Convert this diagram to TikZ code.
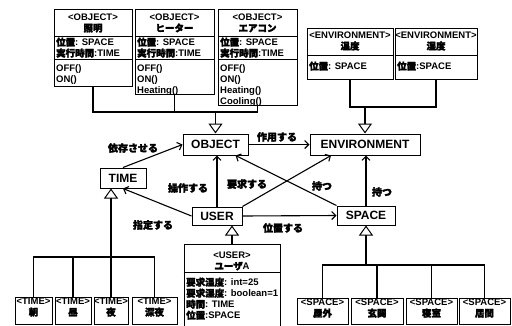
\documentclass[tikz,border=0pt]{standalone}
\usepackage{fontspec}
\setmainfont{Liberation Sans}
\newfontfamily\jp{Noto Sans CJK JP}[FakeBold=2.5]
\usetikzlibrary{arrows.meta}
\newcommand\J[1]{{\jp #1}}
\newcommand\st{\rule{0pt}{8pt}}
\newcommand\ubox[5]{\node[box, minimum width={#4-#2}, minimum height={#5-#3}] (#1) at ({(#2+#4)/2},{(#3+#5)/2}) {};}
\begin{document}
\begin{tikzpicture}[x=1pt,y=-1pt,
 box/.style={draw, line width=1pt, inner sep=0pt},
 main/.style={draw, line width=1pt, inner sep=0pt, font=\fontsize{12}{14}\selectfont\bfseries},
 txt/.style={inner sep=0pt, font=\fontsize{9.5}{11}\selectfont\bfseries},
 lbl/.style={inner sep=0pt, font=\fontsize{10}{12}\selectfont\bfseries\jp},
 div/.style={line width=1pt},
 assoc/.style={line width=1.1pt, -{Straight Barb[length=4pt,width=8pt]}},
 inh/.style={line width=1.1pt, -{Triangle[open,length=10pt,width=14pt,line width=1pt]}},
 tree/.style={line width=1.3pt}]
\useasboundingbox (0,0) rectangle (512,325);
\fill[white] (0,0) rectangle (512,325);

% ---------- main classes
\node[main, minimum width=65, minimum height=21] (obj) at (215.5,144.5) {OBJECT};
\node[main, minimum width=110, minimum height=21] (env) at (365,144.5) {ENVIRONMENT};
\node[main, minimum width=46, minimum height=20] (time) at (123,178) {TIME};
\node[main, minimum width=50, minimum height=18] (user) at (217,216) {USER};
\node[main, minimum width=58, minimum height=19] (space) at (366,215.5) {SPACE};

% ---------- OBJECT subclasses
\ubox{o1}{54}{9}{132}{86}
\ubox{o2}{135}{9}{214}{94}
\ubox{o3}{218}{9}{297}{105}
\foreach \b in {o1,o2,o3}{
  \draw[div] (\b.west |- 0,36) -- (\b.east |- 0,36);
  \draw[div] (\b.west |- 0,59) -- (\b.east |- 0,59);
}
\node[txt, anchor=north, align=center] (o1h) at (93,12.4) {\st<OBJECT>\\\J{照明}};
\node[txt, anchor=north west, align=left] (o1a) at (56,37.4) {\st\J{位置}: SPACE\\\J{実行時間}:TIME};
\node[txt, anchor=north west, align=left] (o1m) at (56,63.4) {\st OFF()\\ON()};
\node[txt, anchor=north, align=center] (o2h) at (174.5,12.4) {\st<OBJECT>\\\J{ヒーター}};
\node[txt, anchor=north west, align=left] (o2a) at (137,37.4) {\st\J{位置}: SPACE\\\J{実行時間}:TIME};
\node[txt, anchor=north west, align=left] (o2m) at (137,63.4) {\st OFF()\\ON()\\Heating()};
\node[txt, anchor=north, align=center] (o3h) at (257.5,12.4) {\st<OBJECT>\\\J{エアコン}};
\node[txt, anchor=north west, align=left] (o3a) at (220,37.4) {\st\J{位置}: SPACE\\\J{実行時間}:TIME};
\node[txt, anchor=north west, align=left] (o3m) at (220,63.4) {\st OFF()\\ON()\\Heating()\\Cooling()};

% ---------- ENVIRONMENT subclasses
\ubox{e1}{307}{28}{393}{79}
\ubox{e2}{395}{28}{477}{79}
\foreach \b in {e1,e2}{\draw[div] (\b.west |- 0,55) -- (\b.east |- 0,55);}
\node[txt, anchor=north, align=center] (e1h) at (350,30.4) {\st<ENVIRONMENT>\\\J{温度}};
\node[txt, anchor=north west, align=left] (e1a) at (309,61.4) {\st\J{位置}: SPACE};
\node[txt, anchor=north, align=center] (e2h) at (436,30.4) {\st<ENVIRONMENT>\\\J{湿度}};
\node[txt, anchor=north west, align=left] (e2a) at (397,61.4) {\st\J{位置}:SPACE};

% ---------- TIME subclasses
\ubox{t1}{15}{297}{52}{324.5}
\ubox{t2}{55}{297}{91}{324.5}
\ubox{t3}{94}{297}{128}{324.5}
\ubox{t4}{132}{297}{177}{324.5}
\node[txt, anchor=north, align=center] (t1h) at (t1.north) {\st<TIME>\\\J{朝}};
\node[txt, anchor=north, align=center] (t2h) at (t2.north) {\st<TIME>\\\J{昼}};
\node[txt, anchor=north, align=center] (t3h) at (t3.north) {\st<TIME>\\\J{夜}};
\node[txt, anchor=north, align=center] (t4h) at (t4.north) {\st<TIME>\\\J{深夜}};

% ---------- SPACE subclasses
\ubox{s1}{297}{298}{348}{324.5}
\ubox{s2}{351}{298}{403}{324.5}
\ubox{s3}{406}{298}{457}{324.5}
\ubox{s4}{459}{298}{510}{324.5}
\node[txt, anchor=north, align=center] (s1h) at (s1.north) {\st<SPACE>\\\J{屋外}};
\node[txt, anchor=north, align=center] (s2h) at (s2.north) {\st<SPACE>\\\J{玄関}};
\node[txt, anchor=north, align=center] (s3h) at (s3.north) {\st<SPACE>\\\J{寝室}};
\node[txt, anchor=north, align=center] (s4h) at (s4.north) {\st<SPACE>\\\J{居間}};

% ---------- USER subclass
\ubox{ua}{184}{244}{280}{327}
\draw[div] (ua.west |- 0,272) -- (ua.east |- 0,272);
\node[txt, anchor=north, align=center] (uah) at (232,250.4) {\st<USER>\\\J{ユーザ}A};
\node[txt, anchor=north west, align=left] (uaa) at (186,277.4) {\st\J{要求温度}: int=25\\\J{要求湿度}: boolean=1\\\J{時間}: TIME\\\J{位置}:SPACE};

% ---------- inheritance trees
\draw[tree] (o1.south) |- (o3.south |- 0,112) -- (o3.south);
\draw[tree] (o2.south) -- (o2.south |- 0,112);
\draw[inh] (obj.north |- 0,112) -- (obj.north);

\draw[tree] (e1.south) |- (e2.south |- 0,107) -- (e2.south);
\draw[inh] (env.north |- 0,107) -- (env.north);

\draw[tree] (t1.north) |- (t4.north |- 0,257) -- (t4.north);
\draw[tree] (t2.north) -- (t2.north |- 0,257);
\draw[tree] (t3.north) -- (t3.north |- 0,257);
\draw[inh, line width=2pt] (t3.north |- 0,257) -- (t3.north |- time.south);

\draw[tree] (s1.north) |- (s4.north |- 0,265) -- (s4.north);
\draw[tree] (s2.north) -- (s2.north |- 0,265);
\draw[tree] (s3.north) -- (s3.north |- 0,265);
\draw[inh, line width=2pt] (space.south |- 0,265) -- (space.south);

\draw[inh] (ua.north) -- (ua.north |- user.south);

% ---------- associations
\draw[assoc] (time.north) -- (obj.west);
\draw[assoc] (obj.east) -- (env.west);
\draw[assoc] (user.west) -- (time.south);
\draw[assoc] (user.north) -- (user.north |- obj.south);
\draw[assoc] (user.north east) -- ([xshift=-34pt]env.south);
\draw[assoc] (space.north west) -- ([xshift=20pt]obj.south);
\draw[assoc] (space.north) -- (space.north |- env.south);
\draw[assoc] (user.east) -- (space.west);

% ---------- labels
\node[lbl] (l1) at (133,148) {依存させる};
\node[lbl] (l2) at (277,137) {作用する};
\node[lbl] (l3) at (188,188) {操作する};
\node[lbl] (l4) at (247,184) {要求する};
\node[lbl] (l5) at (322,186) {持つ};
\node[lbl] (l6) at (382,192) {持つ};
\node[lbl] (l7) at (153,225) {指定する};
\node[lbl] (l8) at (283,228) {位置する};
\end{tikzpicture}
\end{document}
